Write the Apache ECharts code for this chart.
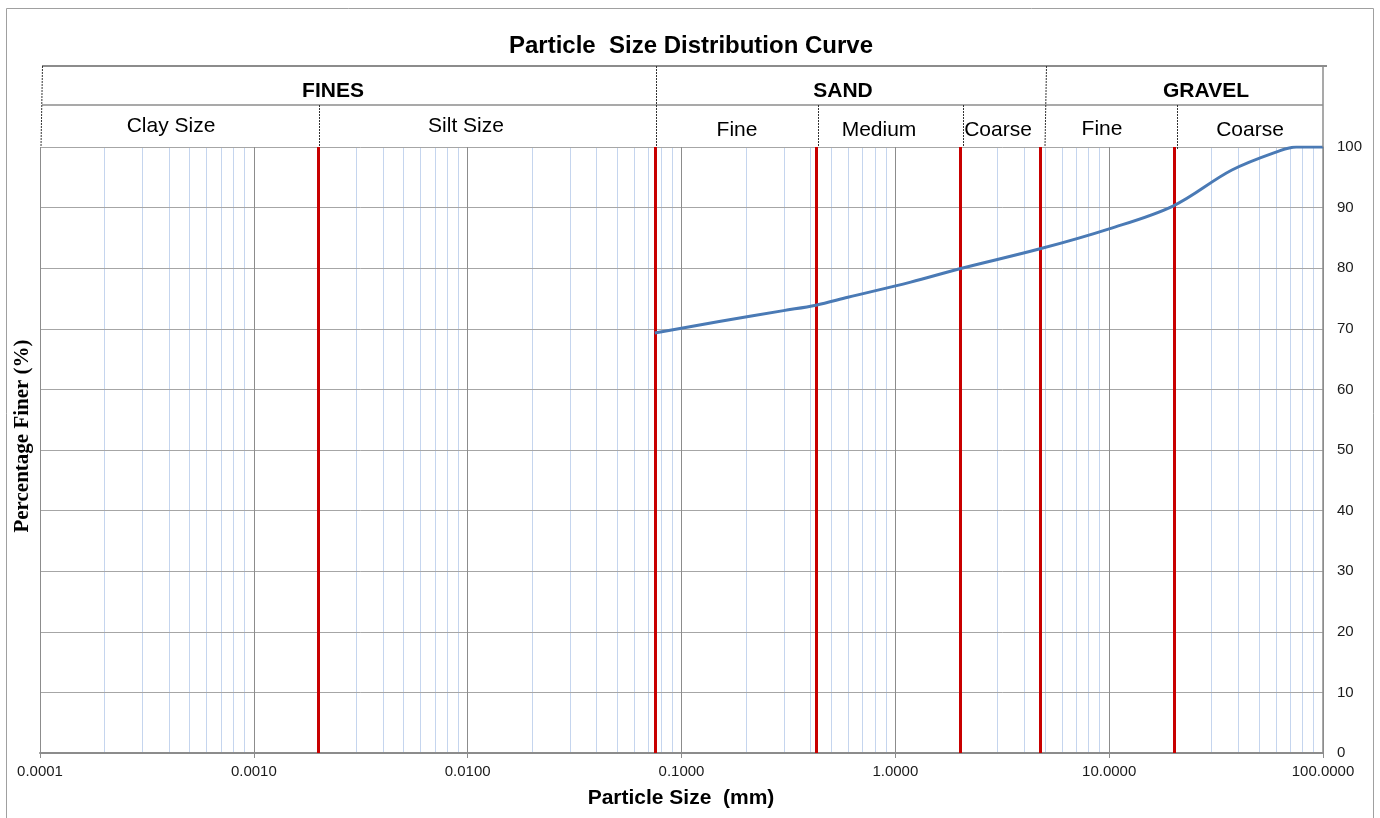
<!DOCTYPE html>
<html>
<head>
<meta charset="utf-8">
<title>Particle Size Distribution Curve</title>
<script src="https://cdn.jsdelivr.net/npm/echarts@6/dist/echarts.min.js"></script>
<style>
  html, body { margin: 0; padding: 0; background: #ffffff; }
  #chart { width: 1380px; height: 818px; }
</style>
</head>
<body>
<div id="chart"></div>
<script>
// Sieve sizes (mm) and cumulative percentage passing
const particleSize = [0.075, 0.15, 0.3, 0.425, 0.6, 1.18, 2, 4.75, 10, 20, 37.5, 63, 75, 100];
const percentFiner = [69.3, 71.2, 73.0, 73.9, 75.2, 77.7, 79.9, 83.2, 86.5, 90.3, 96.2, 99.4, 100, 100];

// Soil classification boundaries (mm): clay/silt, silt/sand, fine/medium sand,
// medium/coarse sand, sand/gravel, fine/coarse gravel
const classBoundaries = [0.002, 0.075, 0.425, 2, 4.75, 20];

// Axis ranges
const sizeRange = [0.0001, 100];
const finerRange = [0, 100];
const finerStep = 10;

// Light log-cycle grid lines at 2..9 times each decade
const minorGrid = [];
for (let e = Math.round(Math.log10(sizeRange[0])); e < Math.round(Math.log10(sizeRange[1])); e++) {
  for (let m = 2; m <= 9; m++) minorGrid.push(m * Math.pow(10, e));
}

const SANS = '"Liberation Sans", Arial, sans-serif';
const SERIF = '"Liberation Serif", "Times New Roman", serif';

const chart = echarts.init(document.getElementById('chart'), null, { renderer: 'canvas' });

function hLine(x1, x2, y, color, w) {
  return { type: 'line', silent: true, z: 20,
    shape: { x1: x1, y1: y, x2: x2, y2: y },
    style: { stroke: color, lineWidth: w } };
}
function vDivider(x1, y1, x2, y2) {
  return { type: 'line', silent: true, z: 20,
    shape: { x1: x1, y1: y1, x2: x2, y2: y2 },
    style: { stroke: '#333333', lineWidth: 1, lineDash: [2, 1] } };
}
function label(text, x, y, size, weight, family) {
  return { type: 'text', silent: true, z: 20, x: x, y: y,
    style: { text: text, font: (weight || 'normal') + ' ' + size + 'px ' + (family || SANS),
      fill: '#000000', textAlign: 'center', textVerticalAlign: 'middle' } };
}

// Full-height vertical line at a particle size, drawn through the axes' scales
function verticalLine(color, width) {
  return function (params, api) {
    const v = api.value(0);
    const bottom = api.coord([v, finerRange[0]]);
    const top = api.coord([v, finerRange[1]]);
    const x = Math.round(bottom[0]) + (width % 2 ? 0.5 : 0);
    return { type: 'line', silent: true,
      shape: { x1: x, y1: bottom[1], x2: x, y2: top[1] },
      style: { stroke: color, lineWidth: width } };
  };
}

const graphic = [
  // outer frame
  { type: 'rect', silent: true, z: 0,
    shape: { x: 6.5, y: 8.5, width: 1367, height: 840 },
    style: { fill: 'none', stroke: '#a0a0a0', lineWidth: 1 } },
  // chart title
  label('Particle  Size Distribution Curve', 691, 46, 24, 'bold'),
  // classification header table
  hLine(42, 1327, 66, '#8c8c8c', 2),
  hLine(42, 1323, 105, '#8c8c8c', 1.5),
  vDivider(42.5, 66, 41, 147),
  vDivider(656.5, 66, 656.5, 147),
  vDivider(1046.5, 66, 1045, 147),
  vDivider(319.5, 105, 319.5, 147),
  vDivider(818.5, 105, 818.5, 147),
  vDivider(963.5, 105, 963.5, 147),
  vDivider(1177.5, 105, 1177.5, 150),
  { type: 'line', silent: true, z: 20,
    shape: { x1: 1323, y1: 66, x2: 1323, y2: 147 },
    style: { stroke: '#8c8c8c', lineWidth: 1.5 } },
  label('FINES', 333, 91, 21, 'bold'),
  label('SAND', 843, 91, 21, 'bold'),
  label('GRAVEL', 1206, 91, 21, 'bold'),
  label('Clay Size', 171, 126, 21),
  label('Silt Size', 466, 126, 21),
  label('Fine', 737, 130, 21),
  label('Medium', 879, 130, 21),
  label('Coarse', 998, 130, 21),
  label('Fine', 1102, 129, 21),
  label('Coarse', 1250, 130, 21),
  // axis titles
  label('Particle Size  (mm)', 681, 798, 21, 'bold'),
  { type: 'text', silent: true, z: 20, x: 23, y: 436, rotation: Math.PI / 2,
    style: { text: 'Percentage Finer (%)', font: 'bold 21px ' + SERIF, fill: '#000000',
      textAlign: 'center', textVerticalAlign: 'middle' } }
];

const option = {
  animation: false,
  backgroundColor: '#ffffff',
  grid: { left: 40, right: 57, top: 147, bottom: 65, containLabel: false },
  xAxis: {
    type: 'log',
    logBase: 10,
    min: sizeRange[0],
    max: sizeRange[1],
    axisLine: { show: true, onZero: false, lineStyle: { color: '#8c8c8c', width: 2 } },
    axisTick: { show: true, length: 5, lineStyle: { color: '#8c8c8c', width: 1 } },
    axisLabel: {
      margin: 11, fontSize: 15, color: '#1a1a1a', fontFamily: SANS,
      formatter: function (v) { return Number(v).toFixed(4); }
    },
    splitLine: { show: true, lineStyle: { color: '#8c8c8c', width: 1 } }
  },
  yAxis: {
    type: 'value',
    position: 'right',
    min: finerRange[0],
    max: finerRange[1],
    interval: finerStep,
    axisLine: { show: true, lineStyle: { color: '#8c8c8c', width: 1.5 } },
    axisTick: { show: false },
    axisLabel: { margin: 14, fontSize: 15, color: '#1a1a1a', fontFamily: SANS },
    splitLine: { show: true, lineStyle: { color: '#a6a6a6', width: 1 } }
  },
  graphic: graphic,
  series: [
    {
      name: 'minor grid',
      type: 'custom',
      z: -1,
      silent: true,
      encode: { x: 0, y: 1 },
      renderItem: verticalLine('#c5d5ee', 1),
      data: minorGrid.map(function (v) { return [v, finerRange[0]]; })
    },
    {
      name: 'boundaries',
      type: 'custom',
      z: 3,
      silent: true,
      encode: { x: 0, y: 1 },
      renderItem: verticalLine('#c80000', 3),
      data: classBoundaries.map(function (v) { return [v, finerRange[0]]; })
    },
    {
      name: 'Percentage Finer',
      type: 'line',
      z: 5,
      smooth: 0.35,
      showSymbol: false,
      symbol: 'none',
      lineStyle: { color: '#4a7ab5', width: 3 },
      data: particleSize.map(function (s, i) { return [s, percentFiner[i]]; })
    }
  ]
};

chart.setOption(option);
</script>
</body>
</html>
